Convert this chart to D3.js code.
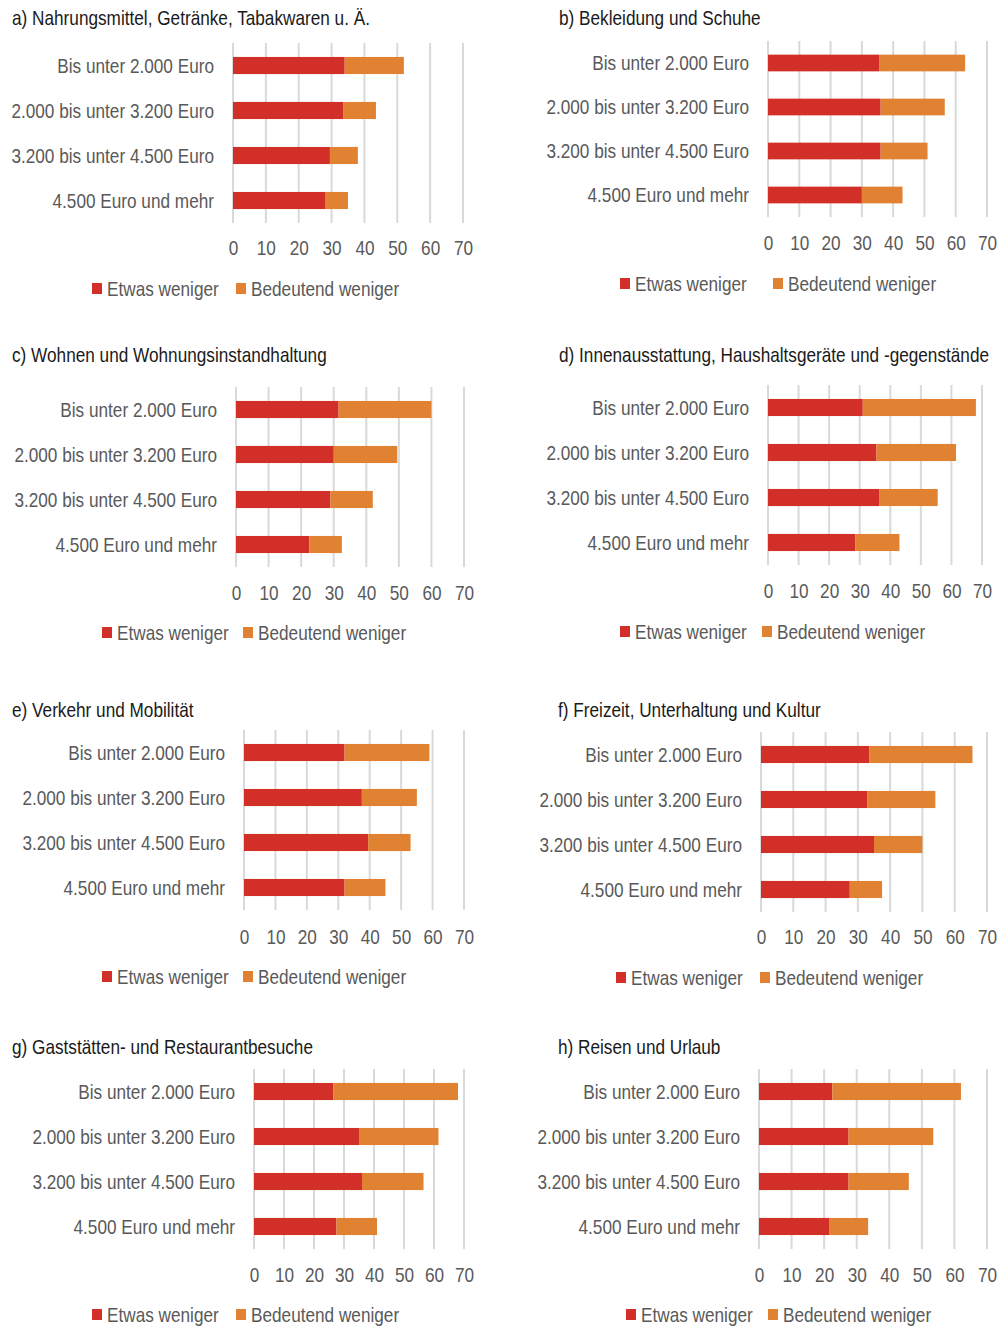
<!DOCTYPE html>
<html>
<head>
<meta charset="utf-8">
<script src="https://cdn.jsdelivr.net/npm/d3@7"></script>
<style>
  body { margin: 0; background: #fff; }
  svg { display: block; }
  text { font-family: "Liberation Sans", Arial, sans-serif; }
</style>
</head>
<body>
<div id="chart"></div>
<script>
// categories (income groups) and series
const categories = ["Bis unter 2.000 Euro", "2.000 bis unter 3.200 Euro", "3.200 bis unter 4.500 Euro", "4.500 Euro und mehr"];
const seriesNames = ["Etwas weniger", "Bedeutend weniger"];
const tickValues = [0, 10, 20, 30, 40, 50, 60, 70];

const panelTitles = [
    "a) Nahrungsmittel, Getränke, Tabakwaren u. Ä.",
    "b) Bekleidung und Schuhe",
    "c) Wohnen und Wohnungsinstandhaltung",
    "d) Innenausstattung, Haushaltsgeräte und -gegenstände",
    "e) Verkehr und Mobilität",
    "f) Freizeit, Unterhaltung und Kultur",
    "g) Gaststätten- und Restaurantbesuche",
    "h) Reisen und Urlaub"
];

// percent values per panel, one value per category
const etwasWeniger = [
    [34, 33.5, 29.5, 28],
    [35.5, 36, 36, 30],
    [31.5, 30, 29, 22.5],
    [31, 35.5, 36.5, 28.5],
    [32, 37.5, 39.5, 32],
    [33.5, 33, 35, 27.5],
    [26.5, 35, 36, 27.5],
    [22.5, 27.5, 27.5, 21.5]
];
const bedeutendWeniger = [
    [18, 10, 8.5, 7],
    [27.5, 20.5, 15, 13],
    [28.5, 19.5, 13, 10],
    [37, 26, 19, 14.5],
    [27, 17.5, 13.5, 13],
    [32, 21, 15, 10],
    [41.5, 26.5, 20.5, 13.5],
    [39.5, 26, 18.5, 12]
];

// frame of each small chart on the page (layout only)
const frames = [
    {x0: 233, x1: 463, top: 43, bot: 223, tickY: 248, legY: 289, legX: [92, 236], tx: 12, ty: 18},
    {x0: 768, x1: 987, top: 41, bot: 217, tickY: 243, legY: 284, legX: [620, 773], tx: 559, ty: 18},
    {x0: 236, x1: 464, top: 387, bot: 567, tickY: 593, legY: 633, legX: [102, 243], tx: 12, ty: 355},
    {x0: 768, x1: 982, top: 385, bot: 565, tickY: 591, legY: 632, legX: [620, 762], tx: 559, ty: 355},
    {x0: 244, x1: 464, top: 730, bot: 910, tickY: 937, legY: 977, legX: [102, 243], tx: 12, ty: 710},
    {x0: 761, x1: 987, top: 732, bot: 912, tickY: 937, legY: 978, legX: [616, 760], tx: 558, ty: 710},
    {x0: 254, x1: 464, top: 1069, bot: 1249, tickY: 1275, legY: 1315, legX: [92, 236], tx: 12, ty: 1047},
    {x0: 759, x1: 987, top: 1069, bot: 1249, tickY: 1275, legY: 1315, legX: [626, 768], tx: 558, ty: 1047}
];

const colors = ["#d22f28", "#e08232"];
const sx = 0.86; // narrow type like the original

const svg = d3.select("#chart").append("svg")
    .attr("width", 999)
    .attr("height", 1326);

frames.forEach((f, i) => {
    const rows = categories.map((c, j) => ({
        cat: c,
        [seriesNames[0]]: etwasWeniger[i][j],
        [seriesNames[1]]: bedeutendWeniger[i][j]
    }));
    const stacked = d3.stack().keys(seriesNames)(rows);

    const x = d3.scaleLinear().domain([0, 70]).range([f.x0, f.x1]);
    const y = d3.scaleBand().domain(categories).range([f.top, f.bot])
        .paddingInner(0.62).paddingOuter(0.31);

    const g = svg.append("g");

    g.append("text")
        .attr("transform", `translate(${f.tx},${f.ty}) scale(${sx},1)`)
        .attr("dy", "0.35em")
        .attr("font-size", 20)
        .attr("fill", "#1a1a1a")
        .text(panelTitles[i]);

    // gridlines
    g.append("g")
        .selectAll("line")
        .data(tickValues)
        .join("line")
        .attr("x1", d => x(d)).attr("x2", d => x(d))
        .attr("y1", f.top).attr("y2", f.bot)
        .attr("stroke", "#d9d9d9")
        .attr("stroke-width", 2);

    // stacked bars
    g.append("g")
        .selectAll("g")
        .data(stacked)
        .join("g")
        .attr("fill", (d, k) => colors[k])
        .selectAll("rect")
        .data(d => d)
        .join("rect")
        .attr("x", d => x(d[0]))
        .attr("y", d => y(d.data.cat))
        .attr("width", d => x(d[1]) - x(d[0]))
        .attr("height", y.bandwidth());

    // category labels
    g.append("g")
        .selectAll("text")
        .data(categories)
        .join("text")
        .attr("transform", d => `translate(${f.x0 - 19},${y(d) + y.bandwidth() / 2}) scale(${sx},1)`)
        .attr("dy", "0.35em")
        .attr("text-anchor", "end")
        .attr("font-size", 20)
        .attr("fill", "#595959")
        .text(d => d);

    // x axis labels
    const ax = g.append("g")
        .attr("transform", `translate(0,${f.tickY})`)
        .call(d3.axisBottom(x).tickValues(tickValues).tickSize(0).tickPadding(0));
    ax.select(".domain").remove();
    ax.selectAll("text")
        .attr("y", 0)
        .attr("dy", "0.35em")
        .attr("transform", `scale(${sx},1)`)
        .attr("font-size", 20)
        .attr("font-family", "Liberation Sans, Arial, sans-serif")
        .attr("fill", "#595959");

    // legend
    const leg = g.append("g")
        .selectAll("g")
        .data(seriesNames)
        .join("g")
        .attr("transform", (d, k) => `translate(${f.legX[k]},${f.legY})`);
    leg.append("rect")
        .attr("x", 0).attr("y", -6)
        .attr("width", 10).attr("height", 11)
        .attr("fill", (d, k) => colors[k]);
    leg.append("text")
        .attr("transform", `translate(15,0) scale(${sx},1)`)
        .attr("dy", "0.35em")
        .attr("font-size", 20)
        .attr("fill", "#595959")
        .text(d => d);
});
</script>
</body>
</html>
